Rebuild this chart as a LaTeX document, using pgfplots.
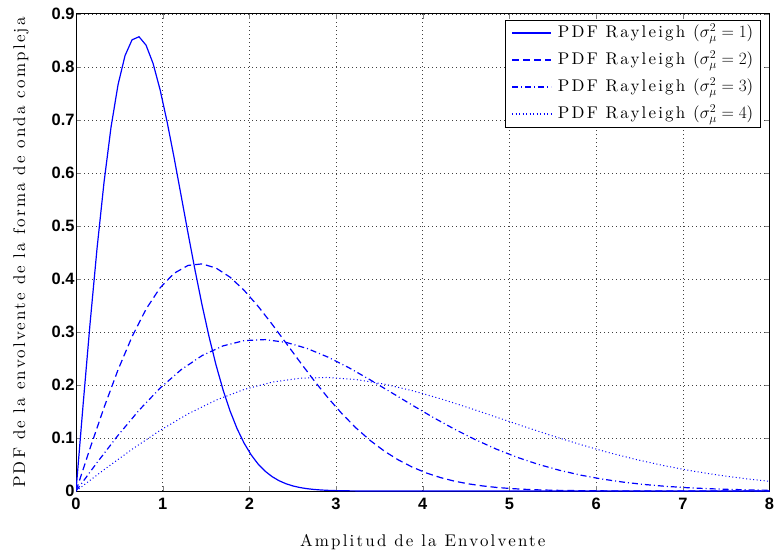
\documentclass[border=0pt]{standalone}
\usepackage{fontspec}
\setsansfont{Liberation Sans}
\newfontfamily\spaced{lmroman10-regular}[Extension=.otf, LetterSpace=13]
\usepackage{pgfplots}
\pgfplotsset{compat=1.18}
\definecolor{mblue}{RGB}{0,0,255}
\begin{document}
\begin{tikzpicture}
\begin{axis}[
  scale only axis, width=693.5bp, height=477bp,
  xmin=0, xmax=8, ymin=0, ymax=0.9,
  xtick={0,1,2,3,4,5,6,7,8},
  ytick={0,0.1,0.2,0.3,0.4,0.5,0.6,0.7,0.8,0.9},
  yticklabels={0,0.1,0.2,0.3,0.4,0.5,0.6,0.7,0.8,0.9},
  /pgf/number format/assume math mode=true,
  tick label style={font=\fontsize{16.5}{17}\selectfont\sffamily\bfseries},
  yticklabel style={xshift=2bp},
  xticklabel style={yshift=-3.5bp},
  grid=major, grid style={dash pattern=on 0.8bp off 3.2bp, black!75, line width=0.55bp},
  tick align=inside, major tick length=5bp,
  xtick pos=both, ytick pos=both,
  axis line style={line width=1bp},
  xlabel={\spaced Amplitud de la Envolvente},
  ylabel={\spaced PDF de la envolvente de la forma de onda compleja},
  label style={font=\fontsize{17}{18}\selectfont},
  xlabel style={at={(axis description cs:0.5,-0.1153)}, anchor=base},
  ylabel style={at={(axis description cs:-0.0735,0.5)}, anchor=base},
  legend style={at={(0.9877,0.9874)}, anchor=north east, draw=black, line width=1.3bp,
    font=\fontsize{17}{18}\selectfont, fill=white, row sep=9bp, column sep=5bp,
    inner xsep=6bp, inner ysep=4bp,
    nodes={text height=12bp, text depth=4bp, inner sep=1bp}},
  legend cell align=left,
  legend image code/.code={\draw[#1, draw=mblue, line width=1.4bp] (0bp,0.5bp) -- (39bp,0.5bp);},
]
\addplot[mblue, solid, line width=1.2bp] coordinates {
(0,0) (0.0808,0.160564) (0.1616,0.314899) (0.2424,0.457175) (0.3232,0.582330)
(0.4040,0.686368) (0.4848,0.766554) (0.5657,0.821530) (0.6465,0.851287) (0.7273,0.857072)
(0.8081,0.841188) (0.8889,0.806736) (0.9697,0.757345) (1.0505,0.696880) (1.1313,0.629176)
(1.2121,0.557818) (1.2929,0.485971) (1.3737,0.416250) (1.4545,0.350685) (1.5354,0.290716)
(1.6162,0.237220) (1.6970,0.190579) (1.7778,0.150781) (1.8586,0.117493) (1.9394,0.090205)
(2.0202,0.068226) (2.1010,0.050861) (2.1818,0.037366) (2.2626,0.027056) (2.3434,0.019315)
(2.4242,0.013595) (2.5051,0.009434) (2.5859,0.006449) (2.6667,0.004352) (2.7475,0.002896)
(2.8283,0.001900) (2.9091,0.001228) (2.9899,0.000784) (3.0707,0.000494) (3.1515,0.000306)
(3.2323,0.000188) (8,0)
};
\addlegendentry{\spaced PDF Rayleigh ($\sigma_{\mu}^{2}=1$)}
\addplot[mblue, dash pattern=on 7bp off 4bp, line width=1.2bp] coordinates {
(0,0) (0.1616,0.080282) (0.3232,0.157450) (0.4848,0.228588) (0.6465,0.291165)
(0.8081,0.343184) (0.9697,0.383277) (1.1313,0.410765) (1.2929,0.425644) (1.4545,0.428536)
(1.6162,0.420594) (1.7778,0.403368) (1.9394,0.378673) (2.1010,0.348440) (2.2626,0.314588)
(2.4242,0.278909) (2.5859,0.242986) (2.7475,0.208125) (2.9091,0.175343) (3.0707,0.145358)
(3.2323,0.118610) (3.3939,0.095290) (3.5556,0.075391) (3.7172,0.058747) (3.8788,0.045103)
(4.0404,0.034113) (4.2020,0.025431) (4.3636,0.018683) (4.5253,0.013528) (4.6869,0.009658)
(4.8485,0.006798) (5.0101,0.004717) (5.1717,0.003225) (5.3333,0.002176) (5.4949,0.001448)
(5.6566,0.000950) (5.8182,0.000614) (5.9798,0.000392) (6.1414,0.000247) (6.3030,0.000153)
(6.4646,0.000094) (8,0)
};
\addlegendentry{\spaced PDF Rayleigh ($\sigma_{\mu}^{2}=2$)}
\addplot[mblue, dash pattern=on 6bp off 3bp on 1bp off 3bp, line width=1.2bp] coordinates {
(0,0) (0.2424,0.053521) (0.4848,0.104966) (0.7273,0.152392) (0.9697,0.194110)
(1.2121,0.228789) (1.4545,0.255518) (1.6970,0.273843) (1.9394,0.283762) (2.1818,0.285691)
(2.4242,0.280396) (2.6667,0.268912) (2.9091,0.252448) (3.1515,0.232293) (3.3939,0.209725)
(3.6364,0.185939) (3.8788,0.161990) (4.1212,0.138750) (4.3636,0.116895) (4.6061,0.096905)
(4.8485,0.079073) (5.0909,0.063526) (5.3333,0.050260) (5.5758,0.039164) (5.8182,0.030068)
(6.0606,0.022742) (6.3030,0.016954) (6.5455,0.012455) (6.7879,0.009019) (7.0303,0.006438)
(7.2727,0.004532) (7.5152,0.003145) (7.7576,0.002150) (8.0000,0.001451)
};
\addlegendentry{\spaced PDF Rayleigh ($\sigma_{\mu}^{2}=3$)}
\addplot[mblue, dash pattern=on 1bp off 2.5bp, line width=1bp] coordinates {
(0,0) (0.3232,0.040141) (0.6465,0.078725) (0.9697,0.114294) (1.2929,0.145583)
(1.6162,0.171592) (1.9394,0.191639) (2.2626,0.205383) (2.5859,0.212822) (2.9091,0.214268)
(3.2323,0.210297) (3.5556,0.201684) (3.8788,0.189336) (4.2020,0.174220) (4.5253,0.157294)
(4.8485,0.139455) (5.1717,0.121493) (5.4949,0.104063) (5.8182,0.087671) (6.1414,0.072679)
(6.4646,0.059305) (6.7879,0.047645) (7.1111,0.037695) (7.4343,0.029373) (7.7576,0.022551)
(8,0.018316)
};
\addlegendentry{\spaced PDF Rayleigh ($\sigma_{\mu}^{2}=4$)}
\end{axis}
\pgfresetboundingbox
\path[use as bounding box] ([shift={(-76bp,-65bp)}]current axis.south west) rectangle ([shift={(4.5bp,14bp)}]current axis.north east);
\end{tikzpicture}
\end{document}
